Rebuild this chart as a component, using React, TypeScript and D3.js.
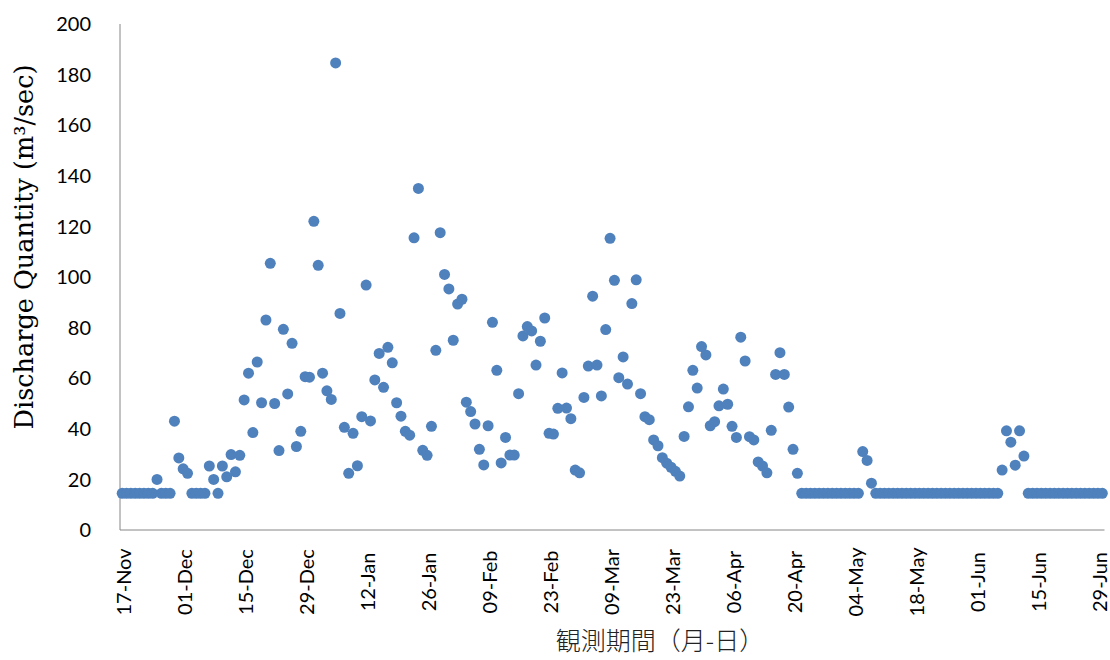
import React from "react";
import * as d3 from "d3";

// Daily discharge (m³/sec), 17-Nov (day 0) to 30-Jun (day 225)
const discharge: number[] = [
  14.5, 14.5, 14.5, 14.5, 14.5, 14.5, 14.5, 14.5, 20, 14.5,
  14.5, 14.5, 43, 28.5, 24.2, 22.4, 14.5, 14.5, 14.5, 14.5,
  25.3, 20, 14.5, 25.3, 21, 29.8, 23, 29.5, 51.4, 62,
  38.5, 66.4, 50.3, 83, 105.4, 50, 31.4, 79.3, 53.8, 73.8,
  33, 39, 60.6, 60.4, 122, 104.6, 62, 55, 51.6, 184.6,
  85.6, 40.6, 22.4, 38.2, 25.4, 44.8, 96.8, 43.1, 59.3, 69.8,
  56.4, 72.2, 66.1, 50.3, 45, 39, 37.5, 115.5, 135, 31.5,
  29.5, 41, 71, 117.5, 101, 95.3, 75, 89.3, 91.2, 50.5,
  46.8, 41.9, 31.9, 25.7, 41.2, 82.1, 63.1, 26.5, 36.6, 29.6,
  29.6, 53.9, 76.7, 80.4, 78.7, 65.2, 74.6, 83.8, 38.2, 37.9,
  48.1, 62.1, 48.2, 44, 23.7, 22.6, 52.4, 64.8, 92.4, 65.2,
  53, 79.2, 115.3, 98.7, 60.2, 68.4, 57.7, 89.5, 98.9, 53.9,
  44.8, 43.6, 35.6, 33.3, 28.6, 26.4, 24.8, 23.2, 21.3, 37,
  48.7, 63.1, 56.1, 72.5, 69.2, 41.2, 42.8, 49.1, 55.7, 49.7,
  41, 36.6, 76.2, 66.8, 36.9, 35.6, 26.9, 25.3, 22.6, 39.4,
  61.5, 70.1, 61.5, 48.6, 31.9, 22.4, 14.5, 14.5, 14.5, 14.5,
  14.5, 14.5, 14.5, 14.5, 14.5, 14.5, 14.5, 14.5, 14.5, 14.5,
  31, 27.5, 18.5, 14.5, 14.5, 14.5, 14.5, 14.5, 14.5, 14.5,
  14.5, 14.5, 14.5, 14.5, 14.5, 14.5, 14.5, 14.5, 14.5, 14.5,
  14.5, 14.5, 14.5, 14.5, 14.5, 14.5, 14.5, 14.5, 14.5, 14.5,
  14.5, 14.5, 23.7, 39.2, 34.7, 25.6, 39.2, 29.2, 14.5, 14.5,
  14.5, 14.5, 14.5, 14.5, 14.5, 14.5, 14.5, 14.5, 14.5, 14.5,
  14.5, 14.5, 14.5, 14.5, 14.5, 14.5,
];

const xTickDays: number[] = [0, 14, 28, 42, 56, 70, 84, 98, 112, 126, 140, 154, 168, 182, 196, 210, 224];
const xTickLabels: string[] = [
  "17-Nov", "01-Dec", "15-Dec", "29-Dec", "12-Jan", "26-Jan", "09-Feb", "23-Feb",
  "09-Mar", "23-Mar", "06-Apr", "20-Apr", "04-May", "18-May", "01-Jun", "15-Jun", "29-Jun",
];
const yTicks: number[] = [0, 20, 40, 60, 80, 100, 120, 140, 160, 180, 200];

const yTitle = "Discharge Quantity (m³/sec)";
const xTitle = "観測期間（月-日）";

export default function App() {
  const left = 120;
  const right = 1104.5;
  const top = 24;
  const bottom = 530;

  const x = d3.scaleLinear().domain([-0.5, discharge.length - 0.5]).range([left, right]);
  const y = d3.scaleLinear().domain([0, 200]).range([bottom, top]);

  const axisColor = "#868686";
  const dotColor = "#4F81BD";

  return (
    <svg
      width={1110}
      height={660}
      style={{ position: "absolute", left: 0, top: 0, background: "#fff" }}
    >
      <rect x={0} y={0} width={1110} height={660} fill="#fff" />
      {/* axes */}
      <line x1={left} x2={left} y1={y(200)} y2={bottom} stroke={axisColor} strokeWidth={1} />
      <line x1={left} x2={right} y1={bottom} y2={bottom} stroke={axisColor} strokeWidth={1} />

      {/* y tick labels */}
      {yTicks.map((t) => (
        <text
          key={t}
          x={91}
          y={y(t)}
          dy="0.36em"
          textAnchor="end"
          fontFamily="Lato, 'Open Sans', sans-serif"
          fontSize={20}
          fill="#000"
        >
          {t}
        </text>
      ))}

      {/* x tick labels */}
      {xTickDays.map((d, i) => (
        <text
          key={d}
          transform={`translate(${x(d) + 9},582) rotate(-90)`}
          textAnchor="middle"
          fontFamily="Lato, 'Open Sans', sans-serif"
          fontSize={20}
          fill="#000"
        >
          {xTickLabels[i]}
        </text>
      ))}

      {/* points */}
      {discharge.map((v, i) => (
        <circle key={i} cx={x(i)} cy={y(v)} r={5.5} fill={dotColor} />
      ))}

      {/* y title */}
      <text
        transform="translate(33,247) rotate(-90)"
        textAnchor="middle"
        fontFamily="'DejaVu Serif', 'Liberation Serif', serif"
        fontSize={25.5}
        fill="#000"
      >
        {yTitle}
      </text>

      {/* x title */}
      <text
        x={660}
        y={650}
        textAnchor="middle"
        fontFamily="'Noto Sans CJK JP', sans-serif"
        fontSize={25}
        fontWeight={300}
        fill="#222"
      >
        {xTitle}
      </text>
    </svg>
  );
}
